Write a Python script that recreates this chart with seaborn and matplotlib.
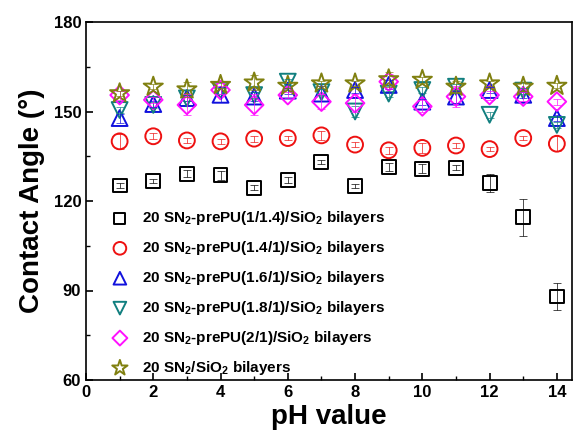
import numpy as np
import pandas as pd
import matplotlib
matplotlib.use('Agg')
import matplotlib.pyplot as plt
import seaborn as sns

ph = [1, 2, 3, 4, 5, 6, 7, 8, 9, 10, 11, 12, 13, 14]

ca_11_4 = [125.2, 126.7, 129.1, 128.6, 124.4, 126.9, 133.1, 125.0, 131.4, 130.8, 131.1, 126.1, 114.5, 88.0]
ca_14_1 = [140.0, 141.7, 140.3, 140.0, 140.9, 141.1, 142.0, 138.9, 137.0, 137.8, 138.6, 137.4, 141.1, 139.2]
ca_16_1 = [147.8, 152.5, 154.5, 155.6, 155.0, 157.0, 156.0, 157.2, 158.9, 153.3, 155.0, 157.2, 155.6, 147.8]
ca_18_1 = [150.5, 152.2, 154.4, 157.0, 155.5, 160.0, 156.5, 150.0, 156.0, 157.2, 158.3, 148.9, 157.0, 145.5]
ca_2_1 = [155.5, 153.9, 152.2, 157.2, 152.2, 155.5, 153.3, 152.8, 160.0, 151.7, 155.0, 155.5, 155.0, 153.3]
ca_sio2 = [156.1, 158.3, 157.4, 158.9, 159.7, 158.6, 159.4, 159.4, 160.8, 160.6, 158.3, 159.4, 158.3, 158.6]

err_11_4 = [0.8, 0.8, 1.2, 1.5, 0.8, 1.0, 0.8, 0.6, 1.2, 1.5, 0.8, 3.0, 6.3, 4.5]
err_14_1 = [2.5, 1.0, 0.8, 0.8, 1.0, 0.8, 1.5, 0.8, 1.2, 1.8, 0.8, 0.8, 0.8, 2.5]
err_16_1 = [1.5, 1.0, 1.0, 2.5, 1.5, 1.0, 2.5, 1.0, 1.5, 1.0, 2.0, 1.0, 1.0, 1.0]
err_18_1 = [1.0, 1.0, 1.0, 1.0, 1.0, 1.0, 1.0, 2.0, 1.0, 1.0, 1.0, 1.0, 1.0, 1.0]
err_2_1 = [1.5, 1.0, 3.5, 1.5, 3.5, 1.0, 2.5, 3.0, 2.5, 2.0, 3.5, 1.5, 1.5, 1.0]
err_sio2 = [0.8, 0.8, 2.5, 1.0, 2.5, 0.8, 0.8, 0.8, 2.5, 1.0, 2.0, 0.8, 1.5, 0.8]

labels = [r'20 SN$_2$-prePU(1/1.4)/SiO$_2$ bilayers',
          r'20 SN$_2$-prePU(1.4/1)/SiO$_2$ bilayers',
          r'20 SN$_2$-prePU(1.6/1)/SiO$_2$ bilayers',
          r'20 SN$_2$-prePU(1.8/1)/SiO$_2$ bilayers',
          r'20 SN$_2$-prePU(2/1)/SiO$_2$ bilayers',
          r'20 SN$_2$/SiO$_2$ bilayers']
values = [ca_11_4, ca_14_1, ca_16_1, ca_18_1, ca_2_1, ca_sio2]
errors = [err_11_4, err_14_1, err_16_1, err_18_1, err_2_1, err_sio2]
colors = ['black', '#ee1111', '#1111dd', '#117f7f', '#ff11ff', '#808010']
markers = ['s', 'o', '^', 'v', 'D', '*']
sizes = [100, 130, 130, 130, 90, 210]

sns.set_style('ticks')
plt.rcParams['font.family'] = ['Liberation Sans', 'DejaVu Sans']
plt.rcParams['font.weight'] = 'bold'
plt.rcParams['text.color'] = 'black'
plt.rcParams['axes.labelcolor'] = 'black'
plt.rcParams['xtick.color'] = 'black'
plt.rcParams['ytick.color'] = 'black'
plt.rcParams['axes.edgecolor'] = 'black'
plt.rcParams['mathtext.fontset'] = 'custom'
plt.rcParams['mathtext.rm'] = 'Liberation Sans:bold'
plt.rcParams['mathtext.bf'] = 'Liberation Sans:bold'
plt.rcParams['mathtext.default'] = 'bf'

fig = plt.figure(figsize=(5.74, 4.30), dpi=100)
ax = fig.add_axes([86 / 574, 1 - 380 / 430, (572 - 86) / 574, (380 - 22) / 430])

for lab, v, e, c, m, s in zip(labels, values, errors, colors, markers, sizes):
    df = pd.DataFrame({'pH': ph, 'CA': v})
    ax.errorbar(ph, v, yerr=e, fmt='none', ecolor=c, elinewidth=0.7,
                capsize=3, capthick=0.7, alpha=0.7)
    sns.scatterplot(data=df, x='pH', y='CA', ax=ax, marker=m, s=s,
                    facecolor='none', edgecolor=c, linewidth=1.4, label=lab)

ax.set_xlim(0, 14.45)
ax.set_ylim(60, 180)
ax.set_xticks(np.arange(0, 15, 2))
ax.set_xticks(np.arange(1, 15, 2), minor=True)
ax.set_yticks([60, 90, 120, 150, 180])
ax.set_yticks([75, 105, 135, 165], minor=True)
ax.tick_params(which='major', direction='in', length=5, width=1.2, labelsize=12)
ax.tick_params(which='minor', direction='in', length=3, width=1.0)
for lbl in ax.get_xticklabels() + ax.get_yticklabels():
    lbl.set_fontweight('bold')
for sp in ax.spines.values():
    sp.set_linewidth(1.2)

ax.set_xlabel('pH value', fontsize=20, fontweight='bold', labelpad=3)
ax.set_ylabel('Contact Angle (\u00b0)', fontsize=20, fontweight='bold', labelpad=6)

ax.legend(loc='lower left', bbox_to_anchor=(0.01, -0.03), frameon=False,
          prop={'size': 11, 'weight': 'bold'}, handletextpad=0.45,
          labelspacing=0.78, markerscale=0.8)

fig.savefig('out.png', dpi=100)
